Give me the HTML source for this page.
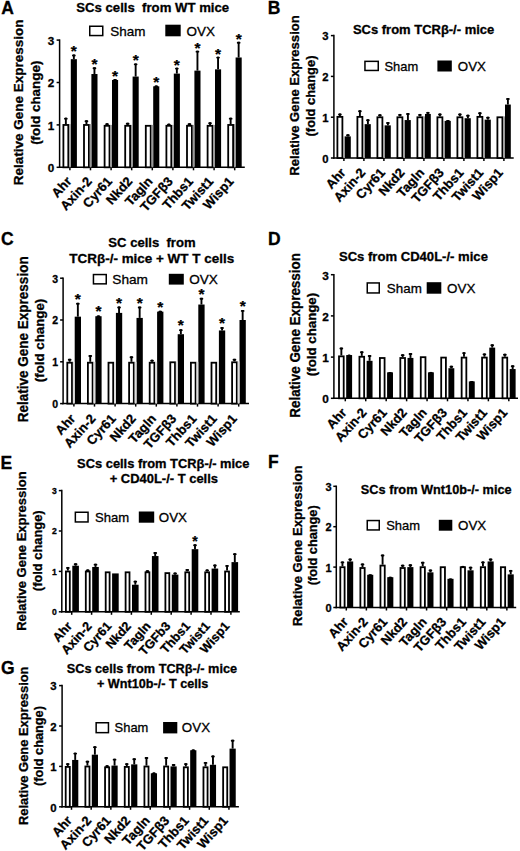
<!DOCTYPE html>
<html><head><meta charset="utf-8"><style>
html,body{margin:0;padding:0;background:#fff;}
svg{display:block;}
text{font-family:"Liberation Sans", sans-serif;fill:#000;white-space:pre;stroke:#000;stroke-width:0.3px;}
</style></head><body>
<svg width="520" height="851" viewBox="0 0 520 851">
<rect width="520" height="851" fill="#fff"/>
<text x="1.16" y="14.00" font-size="17.5" font-weight="bold" >A</text>
<text x="76.22" y="11.50" font-size="13.5" font-weight="bold" textLength="152.93" lengthAdjust="spacingAndGlyphs" >SCs cells  from WT mice</text>
<rect x="89.75" y="26.25" width="13.00" height="9.30" fill="#fff" stroke="#000" stroke-width="1.5"/>
<rect x="165.30" y="24.70" width="15.40" height="11.60" fill="#000"/>
<text x="110.19" y="36.10" font-size="13.3" textLength="35.20" lengthAdjust="spacingAndGlyphs" >Sham</text>
<text x="186.46" y="36.10" font-size="13.3" textLength="28.42" lengthAdjust="spacingAndGlyphs" >OVX</text>
<text x="0.00" y="0.00" font-size="13.3" font-weight="bold" textLength="165.64" lengthAdjust="spacingAndGlyphs" transform="translate(23.20,185.20) rotate(-90)" >Relative Gene Expression</text>
<text x="0.00" y="0.00" font-size="12.8" font-weight="bold" textLength="84.24" lengthAdjust="spacingAndGlyphs" transform="translate(40.00,144.87) rotate(-90)" >(fold change)</text>
<line x1="59.6" y1="168.05" x2="59.6" y2="39.35000000000002" stroke="#000" stroke-width="1.5"/>
<line x1="56.6" y1="167.30" x2="59.6" y2="167.30" stroke="#000" stroke-width="1.5"/>
<text x="54.30" y="172.12" font-size="11.7" font-weight="bold" text-anchor="end" >0</text>
<line x1="56.6" y1="124.90" x2="59.6" y2="124.90" stroke="#000" stroke-width="1.5"/>
<text x="54.30" y="129.72" font-size="11.7" font-weight="bold" text-anchor="end" >1</text>
<line x1="56.6" y1="82.50" x2="59.6" y2="82.50" stroke="#000" stroke-width="1.5"/>
<text x="54.30" y="87.32" font-size="11.7" font-weight="bold" text-anchor="end" >2</text>
<line x1="56.6" y1="40.10" x2="59.6" y2="40.10" stroke="#000" stroke-width="1.5"/>
<text x="54.30" y="44.92" font-size="11.7" font-weight="bold" text-anchor="end" >3</text>
<line x1="58.85" y1="167.3" x2="244.8" y2="167.3" stroke="#000" stroke-width="1.5"/>
<line x1="69.90" y1="167.3" x2="69.90" y2="170.3" stroke="#000" stroke-width="1.5"/>
<line x1="65.85" y1="124.05" x2="65.85" y2="117.69" stroke="#000" stroke-width="1.9"/>
<line x1="64.95" y1="118.64" x2="66.75" y2="118.64" stroke="#000" stroke-width="1.9" stroke-linecap="round"/>
<rect x="63.40" y="124.95" width="4.90" height="42.35" fill="#fff" stroke="#000" stroke-width="1.8"/>
<line x1="73.85" y1="59.18" x2="73.85" y2="54.52" stroke="#000" stroke-width="1.9"/>
<line x1="72.95" y1="55.47" x2="74.75" y2="55.47" stroke="#000" stroke-width="1.9" stroke-linecap="round"/>
<rect x="70.80" y="59.18" width="6.10" height="108.12" fill="#000"/>
<rect x="69.20" y="124.05" width="1.60" height="43.25" fill="#999"/>
<text x="73.85" y="56.41" font-size="15.5" font-weight="bold" text-anchor="middle" style="stroke-width:0.25px" >*</text>
<text x="0.00" y="0.00" font-size="13" font-weight="bold" text-anchor="end" transform="translate(72.30,181.80) rotate(-48)" >Ahr</text>
<line x1="90.50" y1="167.3" x2="90.50" y2="170.3" stroke="#000" stroke-width="1.5"/>
<line x1="86.45" y1="124.05" x2="86.45" y2="120.24" stroke="#000" stroke-width="1.9"/>
<line x1="85.55" y1="121.19" x2="87.35" y2="121.19" stroke="#000" stroke-width="1.9" stroke-linecap="round"/>
<rect x="84.00" y="124.95" width="4.90" height="42.35" fill="#fff" stroke="#000" stroke-width="1.8"/>
<line x1="94.45" y1="74.02" x2="94.45" y2="67.24" stroke="#000" stroke-width="1.9"/>
<line x1="93.55" y1="68.19" x2="95.35" y2="68.19" stroke="#000" stroke-width="1.9" stroke-linecap="round"/>
<rect x="91.40" y="74.02" width="6.10" height="93.28" fill="#000"/>
<rect x="89.80" y="124.05" width="1.60" height="43.25" fill="#999"/>
<text x="94.45" y="69.13" font-size="15.5" font-weight="bold" text-anchor="middle" style="stroke-width:0.25px" >*</text>
<text x="0.00" y="0.00" font-size="13" font-weight="bold" text-anchor="end" transform="translate(92.55,181.80) rotate(-48)" >Axin-2</text>
<line x1="111.10" y1="167.3" x2="111.10" y2="170.3" stroke="#000" stroke-width="1.5"/>
<line x1="107.05" y1="124.90" x2="107.05" y2="123.20" stroke="#000" stroke-width="1.9"/>
<line x1="106.15" y1="124.15" x2="107.95" y2="124.15" stroke="#000" stroke-width="1.9" stroke-linecap="round"/>
<rect x="104.60" y="125.80" width="4.90" height="41.50" fill="#fff" stroke="#000" stroke-width="1.8"/>
<line x1="115.05" y1="79.96" x2="115.05" y2="79.11" stroke="#000" stroke-width="1.9"/>
<line x1="114.15" y1="80.06" x2="115.95" y2="80.06" stroke="#000" stroke-width="1.9" stroke-linecap="round"/>
<rect x="112.00" y="79.96" width="6.10" height="87.34" fill="#000"/>
<rect x="110.40" y="124.90" width="1.60" height="42.40" fill="#999"/>
<text x="115.05" y="81.01" font-size="15.5" font-weight="bold" text-anchor="middle" style="stroke-width:0.25px" >*</text>
<text x="0.00" y="0.00" font-size="13" font-weight="bold" text-anchor="end" transform="translate(112.80,181.80) rotate(-48)" >Cyr61</text>
<line x1="131.70" y1="167.3" x2="131.70" y2="170.3" stroke="#000" stroke-width="1.5"/>
<line x1="127.65" y1="124.90" x2="127.65" y2="122.78" stroke="#000" stroke-width="1.9"/>
<line x1="126.75" y1="123.73" x2="128.55" y2="123.73" stroke="#000" stroke-width="1.9" stroke-linecap="round"/>
<rect x="125.20" y="125.80" width="4.90" height="41.50" fill="#fff" stroke="#000" stroke-width="1.8"/>
<line x1="135.65" y1="76.56" x2="135.65" y2="63.42" stroke="#000" stroke-width="1.9"/>
<line x1="134.75" y1="64.37" x2="136.55" y2="64.37" stroke="#000" stroke-width="1.9" stroke-linecap="round"/>
<rect x="132.60" y="76.56" width="6.10" height="90.74" fill="#000"/>
<rect x="131.00" y="124.90" width="1.60" height="42.40" fill="#999"/>
<text x="135.65" y="65.32" font-size="15.5" font-weight="bold" text-anchor="middle" style="stroke-width:0.25px" >*</text>
<text x="0.00" y="0.00" font-size="13" font-weight="bold" text-anchor="end" transform="translate(133.05,181.80) rotate(-48)" >Nkd2</text>
<line x1="152.30" y1="167.3" x2="152.30" y2="170.3" stroke="#000" stroke-width="1.5"/>
<rect x="145.80" y="125.80" width="4.90" height="41.50" fill="#fff" stroke="#000" stroke-width="1.8"/>
<line x1="156.25" y1="86.32" x2="156.25" y2="85.47" stroke="#000" stroke-width="1.9"/>
<line x1="155.35" y1="86.42" x2="157.15" y2="86.42" stroke="#000" stroke-width="1.9" stroke-linecap="round"/>
<rect x="153.20" y="86.32" width="6.10" height="80.98" fill="#000"/>
<rect x="151.60" y="124.90" width="1.60" height="42.40" fill="#999"/>
<text x="156.25" y="87.37" font-size="15.5" font-weight="bold" text-anchor="middle" style="stroke-width:0.25px" >*</text>
<text x="0.00" y="0.00" font-size="13" font-weight="bold" text-anchor="end" transform="translate(153.30,181.80) rotate(-48)" >Tagln</text>
<line x1="172.90" y1="167.3" x2="172.90" y2="170.3" stroke="#000" stroke-width="1.5"/>
<line x1="168.85" y1="124.90" x2="168.85" y2="123.63" stroke="#000" stroke-width="1.9"/>
<line x1="167.95" y1="124.58" x2="169.75" y2="124.58" stroke="#000" stroke-width="1.9" stroke-linecap="round"/>
<rect x="166.40" y="125.80" width="4.90" height="41.50" fill="#fff" stroke="#000" stroke-width="1.8"/>
<line x1="176.85" y1="73.60" x2="176.85" y2="67.66" stroke="#000" stroke-width="1.9"/>
<line x1="175.95" y1="68.61" x2="177.75" y2="68.61" stroke="#000" stroke-width="1.9" stroke-linecap="round"/>
<rect x="173.80" y="73.60" width="6.10" height="93.70" fill="#000"/>
<rect x="172.20" y="124.90" width="1.60" height="42.40" fill="#999"/>
<text x="176.85" y="69.56" font-size="15.5" font-weight="bold" text-anchor="middle" style="stroke-width:0.25px" >*</text>
<text x="0.00" y="0.00" font-size="13" font-weight="bold" text-anchor="end" transform="translate(173.55,181.80) rotate(-48)" >TGFβ3</text>
<line x1="193.50" y1="167.3" x2="193.50" y2="170.3" stroke="#000" stroke-width="1.5"/>
<line x1="189.45" y1="124.90" x2="189.45" y2="123.20" stroke="#000" stroke-width="1.9"/>
<line x1="188.55" y1="124.15" x2="190.35" y2="124.15" stroke="#000" stroke-width="1.9" stroke-linecap="round"/>
<rect x="187.00" y="125.80" width="4.90" height="41.50" fill="#fff" stroke="#000" stroke-width="1.8"/>
<line x1="197.45" y1="70.63" x2="197.45" y2="50.70" stroke="#000" stroke-width="1.9"/>
<line x1="196.55" y1="51.65" x2="198.35" y2="51.65" stroke="#000" stroke-width="1.9" stroke-linecap="round"/>
<rect x="194.40" y="70.63" width="6.10" height="96.67" fill="#000"/>
<rect x="192.80" y="124.90" width="1.60" height="42.40" fill="#999"/>
<text x="197.45" y="52.60" font-size="15.5" font-weight="bold" text-anchor="middle" style="stroke-width:0.25px" >*</text>
<text x="0.00" y="0.00" font-size="13" font-weight="bold" text-anchor="end" transform="translate(193.80,181.80) rotate(-48)" >Thbs1</text>
<line x1="214.10" y1="167.3" x2="214.10" y2="170.3" stroke="#000" stroke-width="1.5"/>
<line x1="210.05" y1="124.90" x2="210.05" y2="122.36" stroke="#000" stroke-width="1.9"/>
<line x1="209.15" y1="123.31" x2="210.95" y2="123.31" stroke="#000" stroke-width="1.9" stroke-linecap="round"/>
<rect x="207.60" y="125.80" width="4.90" height="41.50" fill="#fff" stroke="#000" stroke-width="1.8"/>
<line x1="218.05" y1="69.36" x2="218.05" y2="56.64" stroke="#000" stroke-width="1.9"/>
<line x1="217.15" y1="57.59" x2="218.95" y2="57.59" stroke="#000" stroke-width="1.9" stroke-linecap="round"/>
<rect x="215.00" y="69.36" width="6.10" height="97.94" fill="#000"/>
<rect x="213.40" y="124.90" width="1.60" height="42.40" fill="#999"/>
<text x="218.05" y="58.53" font-size="15.5" font-weight="bold" text-anchor="middle" style="stroke-width:0.25px" >*</text>
<text x="0.00" y="0.00" font-size="13" font-weight="bold" text-anchor="end" transform="translate(214.05,181.80) rotate(-48)" >Twist1</text>
<line x1="234.70" y1="167.3" x2="234.70" y2="170.3" stroke="#000" stroke-width="1.5"/>
<line x1="230.65" y1="124.05" x2="230.65" y2="117.69" stroke="#000" stroke-width="1.9"/>
<line x1="229.75" y1="118.64" x2="231.55" y2="118.64" stroke="#000" stroke-width="1.9" stroke-linecap="round"/>
<rect x="228.20" y="124.95" width="4.90" height="42.35" fill="#fff" stroke="#000" stroke-width="1.8"/>
<line x1="238.65" y1="57.48" x2="238.65" y2="41.80" stroke="#000" stroke-width="1.9"/>
<line x1="237.75" y1="42.75" x2="239.55" y2="42.75" stroke="#000" stroke-width="1.9" stroke-linecap="round"/>
<rect x="235.60" y="57.48" width="6.10" height="109.82" fill="#000"/>
<rect x="234.00" y="124.05" width="1.60" height="43.25" fill="#999"/>
<text x="238.65" y="43.69" font-size="15.5" font-weight="bold" text-anchor="middle" style="stroke-width:0.25px" >*</text>
<text x="0.00" y="0.00" font-size="13" font-weight="bold" text-anchor="end" transform="translate(234.30,181.80) rotate(-48)" >Wisp1</text>
<text x="267.70" y="13.80" font-size="17.5" font-weight="bold" >B</text>
<text x="352.93" y="34.20" font-size="12.3" font-weight="bold" textLength="141.32" lengthAdjust="spacingAndGlyphs" >SCs from TCRβ-/- mice</text>
<rect x="364.95" y="61.35" width="13.30" height="9.10" fill="#fff" stroke="#000" stroke-width="1.5"/>
<rect x="437.40" y="60.50" width="14.40" height="11.00" fill="#000"/>
<text x="384.41" y="70.60" font-size="13.3" textLength="33.74" lengthAdjust="spacingAndGlyphs" >Sham</text>
<text x="457.87" y="71.00" font-size="13.3" textLength="28.11" lengthAdjust="spacingAndGlyphs" >OVX</text>
<text x="0.00" y="0.00" font-size="12.8" font-weight="bold" textLength="160.38" lengthAdjust="spacingAndGlyphs" transform="translate(298.80,175.67) rotate(-90)" >Relative Gene Expression</text>
<text x="0.00" y="0.00" font-size="12.5" font-weight="bold" textLength="80.88" lengthAdjust="spacingAndGlyphs" transform="translate(314.80,136.44) rotate(-90)" >(fold change)</text>
<line x1="333.9" y1="158.75" x2="333.9" y2="34.85000000000001" stroke="#000" stroke-width="1.5"/>
<line x1="330.9" y1="158.00" x2="333.9" y2="158.00" stroke="#000" stroke-width="1.5"/>
<text x="328.60" y="162.69" font-size="11.3" font-weight="bold" text-anchor="end" >0</text>
<line x1="330.9" y1="117.20" x2="333.9" y2="117.20" stroke="#000" stroke-width="1.5"/>
<text x="328.60" y="121.89" font-size="11.3" font-weight="bold" text-anchor="end" >1</text>
<line x1="330.9" y1="76.40" x2="333.9" y2="76.40" stroke="#000" stroke-width="1.5"/>
<text x="328.60" y="81.09" font-size="11.3" font-weight="bold" text-anchor="end" >2</text>
<line x1="330.9" y1="35.60" x2="333.9" y2="35.60" stroke="#000" stroke-width="1.5"/>
<text x="328.60" y="40.29" font-size="11.3" font-weight="bold" text-anchor="end" >3</text>
<line x1="333.15" y1="158.0" x2="513.7" y2="158.0" stroke="#000" stroke-width="1.5"/>
<line x1="343.90" y1="158.0" x2="343.90" y2="161.0" stroke="#000" stroke-width="1.5"/>
<line x1="339.90" y1="115.98" x2="339.90" y2="113.53" stroke="#000" stroke-width="1.9"/>
<line x1="339.00" y1="114.48" x2="340.80" y2="114.48" stroke="#000" stroke-width="1.9" stroke-linecap="round"/>
<rect x="337.40" y="116.88" width="5.00" height="41.12" fill="#fff" stroke="#000" stroke-width="1.8"/>
<line x1="347.90" y1="136.38" x2="347.90" y2="134.34" stroke="#000" stroke-width="1.9"/>
<line x1="347.00" y1="135.29" x2="348.80" y2="135.29" stroke="#000" stroke-width="1.9" stroke-linecap="round"/>
<rect x="345.00" y="136.38" width="5.80" height="21.62" fill="#000"/>
<rect x="343.30" y="136.38" width="1.70" height="21.62" fill="#999"/>
<text x="0.00" y="0.00" font-size="13" font-weight="bold" text-anchor="end" transform="translate(346.50,173.20) rotate(-48)" >Ahr</text>
<line x1="363.90" y1="158.0" x2="363.90" y2="161.0" stroke="#000" stroke-width="1.5"/>
<line x1="359.90" y1="115.98" x2="359.90" y2="110.26" stroke="#000" stroke-width="1.9"/>
<line x1="359.00" y1="111.21" x2="360.80" y2="111.21" stroke="#000" stroke-width="1.9" stroke-linecap="round"/>
<rect x="357.40" y="116.88" width="5.00" height="41.12" fill="#fff" stroke="#000" stroke-width="1.8"/>
<line x1="367.90" y1="124.14" x2="367.90" y2="119.24" stroke="#000" stroke-width="1.9"/>
<line x1="367.00" y1="120.19" x2="368.80" y2="120.19" stroke="#000" stroke-width="1.9" stroke-linecap="round"/>
<rect x="365.00" y="124.14" width="5.80" height="33.86" fill="#000"/>
<rect x="363.30" y="124.14" width="1.70" height="33.86" fill="#999"/>
<text x="0.00" y="0.00" font-size="13" font-weight="bold" text-anchor="end" transform="translate(366.14,173.20) rotate(-48)" >Axin-2</text>
<line x1="383.90" y1="158.0" x2="383.90" y2="161.0" stroke="#000" stroke-width="1.5"/>
<line x1="379.90" y1="116.38" x2="379.90" y2="114.34" stroke="#000" stroke-width="1.9"/>
<line x1="379.00" y1="115.29" x2="380.80" y2="115.29" stroke="#000" stroke-width="1.9" stroke-linecap="round"/>
<rect x="377.40" y="117.28" width="5.00" height="40.72" fill="#fff" stroke="#000" stroke-width="1.8"/>
<line x1="387.90" y1="125.36" x2="387.90" y2="122.10" stroke="#000" stroke-width="1.9"/>
<line x1="387.00" y1="123.05" x2="388.80" y2="123.05" stroke="#000" stroke-width="1.9" stroke-linecap="round"/>
<rect x="385.00" y="125.36" width="5.80" height="32.64" fill="#000"/>
<rect x="383.30" y="125.36" width="1.70" height="32.64" fill="#999"/>
<text x="0.00" y="0.00" font-size="13" font-weight="bold" text-anchor="end" transform="translate(385.78,173.20) rotate(-48)" >Cyr61</text>
<line x1="403.90" y1="158.0" x2="403.90" y2="161.0" stroke="#000" stroke-width="1.5"/>
<line x1="399.90" y1="116.38" x2="399.90" y2="113.94" stroke="#000" stroke-width="1.9"/>
<line x1="399.00" y1="114.89" x2="400.80" y2="114.89" stroke="#000" stroke-width="1.9" stroke-linecap="round"/>
<rect x="397.40" y="117.28" width="5.00" height="40.72" fill="#fff" stroke="#000" stroke-width="1.8"/>
<line x1="407.90" y1="120.06" x2="407.90" y2="113.12" stroke="#000" stroke-width="1.9"/>
<line x1="407.00" y1="114.07" x2="408.80" y2="114.07" stroke="#000" stroke-width="1.9" stroke-linecap="round"/>
<rect x="405.00" y="120.06" width="5.80" height="37.94" fill="#000"/>
<rect x="403.30" y="120.06" width="1.70" height="37.94" fill="#999"/>
<text x="0.00" y="0.00" font-size="13" font-weight="bold" text-anchor="end" transform="translate(405.42,173.20) rotate(-48)" >Nkd2</text>
<line x1="423.90" y1="158.0" x2="423.90" y2="161.0" stroke="#000" stroke-width="1.5"/>
<line x1="419.90" y1="116.38" x2="419.90" y2="113.94" stroke="#000" stroke-width="1.9"/>
<line x1="419.00" y1="114.89" x2="420.80" y2="114.89" stroke="#000" stroke-width="1.9" stroke-linecap="round"/>
<rect x="417.40" y="117.28" width="5.00" height="40.72" fill="#fff" stroke="#000" stroke-width="1.8"/>
<line x1="427.90" y1="113.94" x2="427.90" y2="111.90" stroke="#000" stroke-width="1.9"/>
<line x1="427.00" y1="112.85" x2="428.80" y2="112.85" stroke="#000" stroke-width="1.9" stroke-linecap="round"/>
<rect x="425.00" y="113.94" width="5.80" height="44.06" fill="#000"/>
<rect x="423.30" y="116.38" width="1.70" height="41.62" fill="#999"/>
<text x="0.00" y="0.00" font-size="13" font-weight="bold" text-anchor="end" transform="translate(425.06,173.20) rotate(-48)" >Tagln</text>
<line x1="443.90" y1="158.0" x2="443.90" y2="161.0" stroke="#000" stroke-width="1.5"/>
<line x1="439.90" y1="116.38" x2="439.90" y2="113.53" stroke="#000" stroke-width="1.9"/>
<line x1="439.00" y1="114.48" x2="440.80" y2="114.48" stroke="#000" stroke-width="1.9" stroke-linecap="round"/>
<rect x="437.40" y="117.28" width="5.00" height="40.72" fill="#fff" stroke="#000" stroke-width="1.8"/>
<line x1="447.90" y1="120.87" x2="447.90" y2="120.06" stroke="#000" stroke-width="1.9"/>
<line x1="447.00" y1="121.01" x2="448.80" y2="121.01" stroke="#000" stroke-width="1.9" stroke-linecap="round"/>
<rect x="445.00" y="120.87" width="5.80" height="37.13" fill="#000"/>
<rect x="443.30" y="120.87" width="1.70" height="37.13" fill="#999"/>
<text x="0.00" y="0.00" font-size="13" font-weight="bold" text-anchor="end" transform="translate(444.70,173.20) rotate(-48)" >TGFβ3</text>
<line x1="463.90" y1="158.0" x2="463.90" y2="161.0" stroke="#000" stroke-width="1.5"/>
<line x1="459.90" y1="116.38" x2="459.90" y2="113.53" stroke="#000" stroke-width="1.9"/>
<line x1="459.00" y1="114.48" x2="460.80" y2="114.48" stroke="#000" stroke-width="1.9" stroke-linecap="round"/>
<rect x="457.40" y="117.28" width="5.00" height="40.72" fill="#fff" stroke="#000" stroke-width="1.8"/>
<line x1="467.90" y1="118.22" x2="467.90" y2="114.75" stroke="#000" stroke-width="1.9"/>
<line x1="467.00" y1="115.70" x2="468.80" y2="115.70" stroke="#000" stroke-width="1.9" stroke-linecap="round"/>
<rect x="465.00" y="118.22" width="5.80" height="39.78" fill="#000"/>
<rect x="463.30" y="118.22" width="1.70" height="39.78" fill="#999"/>
<text x="0.00" y="0.00" font-size="13" font-weight="bold" text-anchor="end" transform="translate(464.34,173.20) rotate(-48)" >Thbs1</text>
<line x1="483.90" y1="158.0" x2="483.90" y2="161.0" stroke="#000" stroke-width="1.5"/>
<line x1="479.90" y1="115.98" x2="479.90" y2="112.30" stroke="#000" stroke-width="1.9"/>
<line x1="479.00" y1="113.25" x2="480.80" y2="113.25" stroke="#000" stroke-width="1.9" stroke-linecap="round"/>
<rect x="477.40" y="116.88" width="5.00" height="41.12" fill="#fff" stroke="#000" stroke-width="1.8"/>
<line x1="487.90" y1="119.65" x2="487.90" y2="116.79" stroke="#000" stroke-width="1.9"/>
<line x1="487.00" y1="117.74" x2="488.80" y2="117.74" stroke="#000" stroke-width="1.9" stroke-linecap="round"/>
<rect x="485.00" y="119.65" width="5.80" height="38.35" fill="#000"/>
<rect x="483.30" y="119.65" width="1.70" height="38.35" fill="#999"/>
<text x="0.00" y="0.00" font-size="13" font-weight="bold" text-anchor="end" transform="translate(483.98,173.20) rotate(-48)" >Twist1</text>
<line x1="503.90" y1="158.0" x2="503.90" y2="161.0" stroke="#000" stroke-width="1.5"/>
<rect x="497.40" y="117.28" width="5.00" height="40.72" fill="#fff" stroke="#000" stroke-width="1.8"/>
<line x1="507.90" y1="104.55" x2="507.90" y2="98.02" stroke="#000" stroke-width="1.9"/>
<line x1="507.00" y1="98.97" x2="508.80" y2="98.97" stroke="#000" stroke-width="1.9" stroke-linecap="round"/>
<rect x="505.00" y="104.55" width="5.80" height="53.45" fill="#000"/>
<rect x="503.30" y="116.38" width="1.70" height="41.62" fill="#999"/>
<text x="0.00" y="0.00" font-size="13" font-weight="bold" text-anchor="end" transform="translate(503.62,173.20) rotate(-48)" >Wisp1</text>
<text x="0.90" y="245.20" font-size="17.5" font-weight="bold" >C</text>
<text x="108.32" y="247.00" font-size="13.4" font-weight="bold" textLength="87.29" lengthAdjust="spacingAndGlyphs" >SC cells  from</text>
<text x="69.35" y="263.40" font-size="13.4" font-weight="bold" textLength="164.80" lengthAdjust="spacingAndGlyphs" >TCRβ-/- mice + WT T cells</text>
<rect x="93.45" y="274.55" width="12.80" height="9.30" fill="#fff" stroke="#000" stroke-width="1.5"/>
<rect x="168.80" y="273.80" width="15.00" height="10.80" fill="#000"/>
<text x="112.28" y="284.10" font-size="13.3" textLength="35.72" lengthAdjust="spacingAndGlyphs" >Sham</text>
<text x="189.16" y="284.10" font-size="13.3" textLength="28.63" lengthAdjust="spacingAndGlyphs" >OVX</text>
<text x="0.00" y="0.00" font-size="13.8" font-weight="bold" textLength="165.84" lengthAdjust="spacingAndGlyphs" transform="translate(27.50,422.20) rotate(-90)" >Relative Gene Expression</text>
<text x="0.00" y="0.00" font-size="13.0" font-weight="bold" textLength="83.42" lengthAdjust="spacingAndGlyphs" transform="translate(43.90,382.16) rotate(-90)" >(fold change)</text>
<line x1="63.1" y1="404.35" x2="63.1" y2="277.45000000000005" stroke="#000" stroke-width="1.5"/>
<line x1="60.1" y1="403.60" x2="63.1" y2="403.60" stroke="#000" stroke-width="1.5"/>
<text x="58.00" y="408.01" font-size="10.5" font-weight="bold" text-anchor="end" >0</text>
<line x1="60.1" y1="361.80" x2="63.1" y2="361.80" stroke="#000" stroke-width="1.5"/>
<text x="58.00" y="366.21" font-size="10.5" font-weight="bold" text-anchor="end" >1</text>
<line x1="60.1" y1="320.00" x2="63.1" y2="320.00" stroke="#000" stroke-width="1.5"/>
<text x="58.00" y="324.41" font-size="10.5" font-weight="bold" text-anchor="end" >2</text>
<line x1="60.1" y1="278.20" x2="63.1" y2="278.20" stroke="#000" stroke-width="1.5"/>
<text x="58.00" y="282.61" font-size="10.5" font-weight="bold" text-anchor="end" >3</text>
<line x1="62.35" y1="403.6" x2="249" y2="403.6" stroke="#000" stroke-width="1.5"/>
<line x1="73.90" y1="403.6" x2="73.90" y2="406.6" stroke="#000" stroke-width="1.5"/>
<line x1="69.65" y1="361.80" x2="69.65" y2="358.87" stroke="#000" stroke-width="1.9"/>
<line x1="68.75" y1="359.82" x2="70.55" y2="359.82" stroke="#000" stroke-width="1.9" stroke-linecap="round"/>
<rect x="67.30" y="362.70" width="4.70" height="40.90" fill="#fff" stroke="#000" stroke-width="1.8"/>
<line x1="77.85" y1="316.66" x2="77.85" y2="302.86" stroke="#000" stroke-width="1.9"/>
<line x1="76.95" y1="303.81" x2="78.75" y2="303.81" stroke="#000" stroke-width="1.9" stroke-linecap="round"/>
<rect x="74.70" y="316.66" width="6.30" height="86.94" fill="#000"/>
<rect x="72.90" y="361.80" width="1.80" height="41.80" fill="#ddd"/>
<text x="77.85" y="303.76" font-size="15.5" font-weight="bold" text-anchor="middle" style="stroke-width:0.25px" >*</text>
<text x="0.00" y="0.00" font-size="13" font-weight="bold" text-anchor="end" transform="translate(76.10,419.20) rotate(-48)" >Ahr</text>
<line x1="94.50" y1="403.6" x2="94.50" y2="406.6" stroke="#000" stroke-width="1.5"/>
<line x1="90.25" y1="361.80" x2="90.25" y2="355.11" stroke="#000" stroke-width="1.9"/>
<line x1="89.35" y1="356.06" x2="91.15" y2="356.06" stroke="#000" stroke-width="1.9" stroke-linecap="round"/>
<rect x="87.90" y="362.70" width="4.70" height="40.90" fill="#fff" stroke="#000" stroke-width="1.8"/>
<line x1="98.45" y1="316.24" x2="98.45" y2="315.40" stroke="#000" stroke-width="1.9"/>
<line x1="97.55" y1="316.35" x2="99.35" y2="316.35" stroke="#000" stroke-width="1.9" stroke-linecap="round"/>
<rect x="95.30" y="316.24" width="6.30" height="87.36" fill="#000"/>
<rect x="93.50" y="361.80" width="1.80" height="41.80" fill="#ddd"/>
<text x="98.45" y="316.30" font-size="15.5" font-weight="bold" text-anchor="middle" style="stroke-width:0.25px" >*</text>
<text x="0.00" y="0.00" font-size="13" font-weight="bold" text-anchor="end" transform="translate(96.30,419.20) rotate(-48)" >Axin-2</text>
<line x1="115.10" y1="403.6" x2="115.10" y2="406.6" stroke="#000" stroke-width="1.5"/>
<rect x="108.50" y="362.70" width="4.70" height="40.90" fill="#fff" stroke="#000" stroke-width="1.8"/>
<line x1="119.05" y1="312.89" x2="119.05" y2="306.62" stroke="#000" stroke-width="1.9"/>
<line x1="118.15" y1="307.57" x2="119.95" y2="307.57" stroke="#000" stroke-width="1.9" stroke-linecap="round"/>
<rect x="115.90" y="312.89" width="6.30" height="90.71" fill="#000"/>
<rect x="114.10" y="361.80" width="1.80" height="41.80" fill="#ddd"/>
<text x="119.05" y="307.52" font-size="15.5" font-weight="bold" text-anchor="middle" style="stroke-width:0.25px" >*</text>
<text x="0.00" y="0.00" font-size="13" font-weight="bold" text-anchor="end" transform="translate(116.50,419.20) rotate(-48)" >Cyr61</text>
<line x1="135.70" y1="403.6" x2="135.70" y2="406.6" stroke="#000" stroke-width="1.5"/>
<line x1="131.45" y1="361.80" x2="131.45" y2="356.37" stroke="#000" stroke-width="1.9"/>
<line x1="130.55" y1="357.32" x2="132.35" y2="357.32" stroke="#000" stroke-width="1.9" stroke-linecap="round"/>
<rect x="129.10" y="362.70" width="4.70" height="40.90" fill="#fff" stroke="#000" stroke-width="1.8"/>
<line x1="139.65" y1="317.91" x2="139.65" y2="306.62" stroke="#000" stroke-width="1.9"/>
<line x1="138.75" y1="307.57" x2="140.55" y2="307.57" stroke="#000" stroke-width="1.9" stroke-linecap="round"/>
<rect x="136.50" y="317.91" width="6.30" height="85.69" fill="#000"/>
<rect x="134.70" y="361.80" width="1.80" height="41.80" fill="#ddd"/>
<text x="139.65" y="307.52" font-size="15.5" font-weight="bold" text-anchor="middle" style="stroke-width:0.25px" >*</text>
<text x="0.00" y="0.00" font-size="13" font-weight="bold" text-anchor="end" transform="translate(136.70,419.20) rotate(-48)" >Nkd2</text>
<line x1="156.30" y1="403.6" x2="156.30" y2="406.6" stroke="#000" stroke-width="1.5"/>
<line x1="152.05" y1="361.80" x2="152.05" y2="359.71" stroke="#000" stroke-width="1.9"/>
<line x1="151.15" y1="360.66" x2="152.95" y2="360.66" stroke="#000" stroke-width="1.9" stroke-linecap="round"/>
<rect x="149.70" y="362.70" width="4.70" height="40.90" fill="#fff" stroke="#000" stroke-width="1.8"/>
<line x1="160.25" y1="311.64" x2="160.25" y2="310.80" stroke="#000" stroke-width="1.9"/>
<line x1="159.35" y1="311.75" x2="161.15" y2="311.75" stroke="#000" stroke-width="1.9" stroke-linecap="round"/>
<rect x="157.10" y="311.64" width="6.30" height="91.96" fill="#000"/>
<rect x="155.30" y="361.80" width="1.80" height="41.80" fill="#ddd"/>
<text x="160.25" y="311.70" font-size="15.5" font-weight="bold" text-anchor="middle" style="stroke-width:0.25px" >*</text>
<text x="0.00" y="0.00" font-size="13" font-weight="bold" text-anchor="end" transform="translate(156.90,419.20) rotate(-48)" >Tagln</text>
<line x1="176.90" y1="403.6" x2="176.90" y2="406.6" stroke="#000" stroke-width="1.5"/>
<rect x="170.30" y="362.28" width="4.70" height="41.32" fill="#fff" stroke="#000" stroke-width="1.8"/>
<line x1="180.85" y1="334.21" x2="180.85" y2="329.20" stroke="#000" stroke-width="1.9"/>
<line x1="179.95" y1="330.15" x2="181.75" y2="330.15" stroke="#000" stroke-width="1.9" stroke-linecap="round"/>
<rect x="177.70" y="334.21" width="6.30" height="69.39" fill="#000"/>
<rect x="175.90" y="361.38" width="1.80" height="42.22" fill="#ddd"/>
<text x="180.85" y="330.09" font-size="15.5" font-weight="bold" text-anchor="middle" style="stroke-width:0.25px" >*</text>
<text x="0.00" y="0.00" font-size="13" font-weight="bold" text-anchor="end" transform="translate(177.10,419.20) rotate(-48)" >TGFβ3</text>
<line x1="197.50" y1="403.6" x2="197.50" y2="406.6" stroke="#000" stroke-width="1.5"/>
<rect x="190.90" y="362.70" width="4.70" height="40.90" fill="#fff" stroke="#000" stroke-width="1.8"/>
<line x1="201.45" y1="304.53" x2="201.45" y2="297.85" stroke="#000" stroke-width="1.9"/>
<line x1="200.55" y1="298.80" x2="202.35" y2="298.80" stroke="#000" stroke-width="1.9" stroke-linecap="round"/>
<rect x="198.30" y="304.53" width="6.30" height="99.07" fill="#000"/>
<rect x="196.50" y="361.80" width="1.80" height="41.80" fill="#ddd"/>
<text x="201.45" y="298.74" font-size="15.5" font-weight="bold" text-anchor="middle" style="stroke-width:0.25px" >*</text>
<text x="0.00" y="0.00" font-size="13" font-weight="bold" text-anchor="end" transform="translate(197.30,419.20) rotate(-48)" >Thbs1</text>
<line x1="218.10" y1="403.6" x2="218.10" y2="406.6" stroke="#000" stroke-width="1.5"/>
<rect x="211.50" y="362.70" width="4.70" height="40.90" fill="#fff" stroke="#000" stroke-width="1.8"/>
<line x1="222.05" y1="330.45" x2="222.05" y2="327.11" stroke="#000" stroke-width="1.9"/>
<line x1="221.15" y1="328.06" x2="222.95" y2="328.06" stroke="#000" stroke-width="1.9" stroke-linecap="round"/>
<rect x="218.90" y="330.45" width="6.30" height="73.15" fill="#000"/>
<rect x="217.10" y="361.80" width="1.80" height="41.80" fill="#ddd"/>
<text x="222.05" y="328.00" font-size="15.5" font-weight="bold" text-anchor="middle" style="stroke-width:0.25px" >*</text>
<text x="0.00" y="0.00" font-size="13" font-weight="bold" text-anchor="end" transform="translate(217.50,419.20) rotate(-48)" >Twist1</text>
<line x1="238.70" y1="403.6" x2="238.70" y2="406.6" stroke="#000" stroke-width="1.5"/>
<line x1="234.45" y1="361.38" x2="234.45" y2="358.87" stroke="#000" stroke-width="1.9"/>
<line x1="233.55" y1="359.82" x2="235.35" y2="359.82" stroke="#000" stroke-width="1.9" stroke-linecap="round"/>
<rect x="232.10" y="362.28" width="4.70" height="41.32" fill="#fff" stroke="#000" stroke-width="1.8"/>
<line x1="242.65" y1="320.00" x2="242.65" y2="309.97" stroke="#000" stroke-width="1.9"/>
<line x1="241.75" y1="310.92" x2="243.55" y2="310.92" stroke="#000" stroke-width="1.9" stroke-linecap="round"/>
<rect x="239.50" y="320.00" width="6.30" height="83.60" fill="#000"/>
<rect x="237.70" y="361.38" width="1.80" height="42.22" fill="#ddd"/>
<text x="242.65" y="310.87" font-size="15.5" font-weight="bold" text-anchor="middle" style="stroke-width:0.25px" >*</text>
<text x="0.00" y="0.00" font-size="13" font-weight="bold" text-anchor="end" transform="translate(237.70,419.20) rotate(-48)" >Wisp1</text>
<text x="267.90" y="245.10" font-size="17.5" font-weight="bold" >D</text>
<text x="338.92" y="261.40" font-size="12.8" font-weight="bold" textLength="149.02" lengthAdjust="spacingAndGlyphs" >SCs from CD40L-/- mice</text>
<rect x="367.25" y="282.95" width="12.00" height="10.00" fill="#fff" stroke="#000" stroke-width="1.5"/>
<rect x="426.70" y="282.20" width="14.60" height="11.50" fill="#000"/>
<text x="386.89" y="292.90" font-size="13.3" textLength="34.99" lengthAdjust="spacingAndGlyphs" >Sham</text>
<text x="447.06" y="292.90" font-size="13.3" textLength="28.32" lengthAdjust="spacingAndGlyphs" >OVX</text>
<text x="0.00" y="0.00" font-size="13.8" font-weight="bold" textLength="164.53" lengthAdjust="spacingAndGlyphs" transform="translate(299.60,417.70) rotate(-90)" >Relative Gene Expression</text>
<text x="0.00" y="0.00" font-size="12.5" font-weight="bold" textLength="83.32" lengthAdjust="spacingAndGlyphs" transform="translate(315.80,376.16) rotate(-90)" >(fold change)</text>
<line x1="333.9" y1="399.05" x2="333.9" y2="273.95" stroke="#000" stroke-width="1.5"/>
<line x1="330.9" y1="398.30" x2="333.9" y2="398.30" stroke="#000" stroke-width="1.5"/>
<text x="328.80" y="403.16" font-size="11.8" font-weight="bold" text-anchor="end" >0</text>
<line x1="330.9" y1="357.10" x2="333.9" y2="357.10" stroke="#000" stroke-width="1.5"/>
<text x="328.80" y="361.96" font-size="11.8" font-weight="bold" text-anchor="end" >1</text>
<line x1="330.9" y1="315.90" x2="333.9" y2="315.90" stroke="#000" stroke-width="1.5"/>
<text x="328.80" y="320.76" font-size="11.8" font-weight="bold" text-anchor="end" >2</text>
<line x1="330.9" y1="274.70" x2="333.9" y2="274.70" stroke="#000" stroke-width="1.5"/>
<text x="328.80" y="279.56" font-size="11.8" font-weight="bold" text-anchor="end" >3</text>
<line x1="333.15" y1="398.3" x2="518" y2="398.3" stroke="#000" stroke-width="1.5"/>
<line x1="345.30" y1="398.3" x2="345.30" y2="401.3" stroke="#000" stroke-width="1.5"/>
<line x1="341.35" y1="355.45" x2="341.35" y2="347.62" stroke="#000" stroke-width="1.9"/>
<line x1="340.45" y1="348.57" x2="342.25" y2="348.57" stroke="#000" stroke-width="1.9" stroke-linecap="round"/>
<rect x="339.00" y="356.35" width="4.70" height="41.95" fill="#fff" stroke="#000" stroke-width="1.8"/>
<line x1="349.15" y1="355.04" x2="349.15" y2="354.63" stroke="#000" stroke-width="1.9"/>
<line x1="348.25" y1="355.58" x2="350.05" y2="355.58" stroke="#000" stroke-width="1.9" stroke-linecap="round"/>
<rect x="346.20" y="355.04" width="5.90" height="43.26" fill="#000"/>
<text x="0.00" y="0.00" font-size="13" font-weight="bold" text-anchor="end" transform="translate(347.30,413.20) rotate(-48)" >Ahr</text>
<line x1="365.74" y1="398.3" x2="365.74" y2="401.3" stroke="#000" stroke-width="1.5"/>
<line x1="361.79" y1="355.86" x2="361.79" y2="351.33" stroke="#000" stroke-width="1.9"/>
<line x1="360.89" y1="352.28" x2="362.69" y2="352.28" stroke="#000" stroke-width="1.9" stroke-linecap="round"/>
<rect x="359.44" y="356.76" width="4.70" height="41.54" fill="#fff" stroke="#000" stroke-width="1.8"/>
<line x1="369.59" y1="360.81" x2="369.59" y2="355.04" stroke="#000" stroke-width="1.9"/>
<line x1="368.69" y1="355.99" x2="370.49" y2="355.99" stroke="#000" stroke-width="1.9" stroke-linecap="round"/>
<rect x="366.64" y="360.81" width="5.90" height="37.49" fill="#000"/>
<text x="0.00" y="0.00" font-size="13" font-weight="bold" text-anchor="end" transform="translate(367.39,413.20) rotate(-48)" >Axin-2</text>
<line x1="386.18" y1="398.3" x2="386.18" y2="401.3" stroke="#000" stroke-width="1.5"/>
<rect x="379.88" y="358.00" width="4.70" height="40.30" fill="#fff" stroke="#000" stroke-width="1.8"/>
<line x1="390.03" y1="372.34" x2="390.03" y2="371.93" stroke="#000" stroke-width="1.9"/>
<line x1="389.13" y1="372.88" x2="390.93" y2="372.88" stroke="#000" stroke-width="1.9" stroke-linecap="round"/>
<rect x="387.08" y="372.34" width="5.90" height="25.96" fill="#000"/>
<text x="0.00" y="0.00" font-size="13" font-weight="bold" text-anchor="end" transform="translate(387.48,413.20) rotate(-48)" >Cyr61</text>
<line x1="406.62" y1="398.3" x2="406.62" y2="401.3" stroke="#000" stroke-width="1.5"/>
<line x1="402.67" y1="357.10" x2="402.67" y2="354.22" stroke="#000" stroke-width="1.9"/>
<line x1="401.77" y1="355.17" x2="403.57" y2="355.17" stroke="#000" stroke-width="1.9" stroke-linecap="round"/>
<rect x="400.32" y="358.00" width="4.70" height="40.30" fill="#fff" stroke="#000" stroke-width="1.8"/>
<line x1="410.47" y1="357.92" x2="410.47" y2="352.98" stroke="#000" stroke-width="1.9"/>
<line x1="409.57" y1="353.93" x2="411.37" y2="353.93" stroke="#000" stroke-width="1.9" stroke-linecap="round"/>
<rect x="407.52" y="357.92" width="5.90" height="40.38" fill="#000"/>
<text x="0.00" y="0.00" font-size="13" font-weight="bold" text-anchor="end" transform="translate(407.57,413.20) rotate(-48)" >Nkd2</text>
<line x1="427.06" y1="398.3" x2="427.06" y2="401.3" stroke="#000" stroke-width="1.5"/>
<rect x="420.76" y="357.18" width="4.70" height="41.12" fill="#fff" stroke="#000" stroke-width="1.8"/>
<line x1="430.91" y1="372.34" x2="430.91" y2="371.93" stroke="#000" stroke-width="1.9"/>
<line x1="430.01" y1="372.88" x2="431.81" y2="372.88" stroke="#000" stroke-width="1.9" stroke-linecap="round"/>
<rect x="427.96" y="372.34" width="5.90" height="25.96" fill="#000"/>
<text x="0.00" y="0.00" font-size="13" font-weight="bold" text-anchor="end" transform="translate(427.66,413.20) rotate(-48)" >Tagln</text>
<line x1="447.50" y1="398.3" x2="447.50" y2="401.3" stroke="#000" stroke-width="1.5"/>
<rect x="441.20" y="357.59" width="4.70" height="40.71" fill="#fff" stroke="#000" stroke-width="1.8"/>
<line x1="451.35" y1="368.22" x2="451.35" y2="365.75" stroke="#000" stroke-width="1.9"/>
<line x1="450.45" y1="366.70" x2="452.25" y2="366.70" stroke="#000" stroke-width="1.9" stroke-linecap="round"/>
<rect x="448.40" y="368.22" width="5.90" height="30.08" fill="#000"/>
<text x="0.00" y="0.00" font-size="13" font-weight="bold" text-anchor="end" transform="translate(447.75,413.20) rotate(-48)" >TGFβ3</text>
<line x1="467.94" y1="398.3" x2="467.94" y2="401.3" stroke="#000" stroke-width="1.5"/>
<line x1="463.99" y1="356.69" x2="463.99" y2="352.16" stroke="#000" stroke-width="1.9"/>
<line x1="463.09" y1="353.11" x2="464.89" y2="353.11" stroke="#000" stroke-width="1.9" stroke-linecap="round"/>
<rect x="461.64" y="357.59" width="4.70" height="40.71" fill="#fff" stroke="#000" stroke-width="1.8"/>
<line x1="471.79" y1="381.41" x2="471.79" y2="381.00" stroke="#000" stroke-width="1.9"/>
<line x1="470.89" y1="381.95" x2="472.69" y2="381.95" stroke="#000" stroke-width="1.9" stroke-linecap="round"/>
<rect x="468.84" y="381.41" width="5.90" height="16.89" fill="#000"/>
<text x="0.00" y="0.00" font-size="13" font-weight="bold" text-anchor="end" transform="translate(467.84,413.20) rotate(-48)" >Thbs1</text>
<line x1="488.38" y1="398.3" x2="488.38" y2="401.3" stroke="#000" stroke-width="1.5"/>
<line x1="484.43" y1="356.69" x2="484.43" y2="353.39" stroke="#000" stroke-width="1.9"/>
<line x1="483.53" y1="354.34" x2="485.33" y2="354.34" stroke="#000" stroke-width="1.9" stroke-linecap="round"/>
<rect x="482.08" y="357.59" width="4.70" height="40.71" fill="#fff" stroke="#000" stroke-width="1.8"/>
<line x1="492.23" y1="347.62" x2="492.23" y2="344.33" stroke="#000" stroke-width="1.9"/>
<line x1="491.33" y1="345.28" x2="493.13" y2="345.28" stroke="#000" stroke-width="1.9" stroke-linecap="round"/>
<rect x="489.28" y="347.62" width="5.90" height="50.68" fill="#000"/>
<text x="0.00" y="0.00" font-size="13" font-weight="bold" text-anchor="end" transform="translate(487.93,413.20) rotate(-48)" >Twist1</text>
<line x1="508.82" y1="398.3" x2="508.82" y2="401.3" stroke="#000" stroke-width="1.5"/>
<line x1="504.87" y1="356.69" x2="504.87" y2="353.80" stroke="#000" stroke-width="1.9"/>
<line x1="503.97" y1="354.75" x2="505.77" y2="354.75" stroke="#000" stroke-width="1.9" stroke-linecap="round"/>
<rect x="502.52" y="357.59" width="4.70" height="40.71" fill="#fff" stroke="#000" stroke-width="1.8"/>
<line x1="512.67" y1="369.05" x2="512.67" y2="365.34" stroke="#000" stroke-width="1.9"/>
<line x1="511.77" y1="366.29" x2="513.57" y2="366.29" stroke="#000" stroke-width="1.9" stroke-linecap="round"/>
<rect x="509.72" y="369.05" width="5.90" height="29.25" fill="#000"/>
<text x="0.00" y="0.00" font-size="13" font-weight="bold" text-anchor="end" transform="translate(508.02,413.20) rotate(-48)" >Wisp1</text>
<text x="0.40" y="468.60" font-size="17.5" font-weight="bold" >E</text>
<text x="77.13" y="467.50" font-size="12.3" font-weight="bold" textLength="172.31" lengthAdjust="spacingAndGlyphs" >SCs cells from TCRβ-/- mice</text>
<text x="109.66" y="482.70" font-size="12.3" font-weight="bold" textLength="108.38" lengthAdjust="spacingAndGlyphs" >+ CD40L-/- T cells</text>
<rect x="75.35" y="512.25" width="12.70" height="9.70" fill="#fff" stroke="#000" stroke-width="1.5"/>
<rect x="138.80" y="511.50" width="15.40" height="11.20" fill="#000"/>
<text x="95.01" y="521.90" font-size="13.3" textLength="34.16" lengthAdjust="spacingAndGlyphs" >Sham</text>
<text x="158.77" y="521.90" font-size="13.3" textLength="28.21" lengthAdjust="spacingAndGlyphs" >OVX</text>
<text x="0.00" y="0.00" font-size="13.3" font-weight="bold" textLength="159.57" lengthAdjust="spacingAndGlyphs" transform="translate(26.20,630.87) rotate(-90)" >Relative Gene Expression</text>
<text x="0.00" y="0.00" font-size="12.5" font-weight="bold" textLength="80.78" lengthAdjust="spacingAndGlyphs" transform="translate(42.00,591.14) rotate(-90)" >(fold change)</text>
<line x1="61.8" y1="612.55" x2="61.8" y2="489.84999999999997" stroke="#000" stroke-width="1.5"/>
<line x1="58.8" y1="611.80" x2="61.8" y2="611.80" stroke="#000" stroke-width="1.5"/>
<text x="56.70" y="614.96" font-size="8.6" font-weight="bold" text-anchor="end" >0</text>
<line x1="58.8" y1="571.40" x2="61.8" y2="571.40" stroke="#000" stroke-width="1.5"/>
<text x="56.70" y="574.56" font-size="8.6" font-weight="bold" text-anchor="end" >1</text>
<line x1="58.8" y1="531.00" x2="61.8" y2="531.00" stroke="#000" stroke-width="1.5"/>
<text x="56.70" y="534.16" font-size="8.6" font-weight="bold" text-anchor="end" >2</text>
<line x1="58.8" y1="490.60" x2="61.8" y2="490.60" stroke="#000" stroke-width="1.5"/>
<text x="56.70" y="493.76" font-size="8.6" font-weight="bold" text-anchor="end" >3</text>
<line x1="61.05" y1="611.8" x2="239.8" y2="611.8" stroke="#000" stroke-width="1.5"/>
<line x1="71.70" y1="611.8" x2="71.70" y2="614.8" stroke="#000" stroke-width="1.5"/>
<line x1="67.85" y1="570.59" x2="67.85" y2="566.96" stroke="#000" stroke-width="1.9"/>
<line x1="66.95" y1="567.91" x2="68.75" y2="567.91" stroke="#000" stroke-width="1.9" stroke-linecap="round"/>
<rect x="65.90" y="571.49" width="3.90" height="40.31" fill="#fff" stroke="#000" stroke-width="1.8"/>
<line x1="75.60" y1="565.74" x2="75.60" y2="563.32" stroke="#000" stroke-width="1.9"/>
<line x1="74.70" y1="564.27" x2="76.50" y2="564.27" stroke="#000" stroke-width="1.9" stroke-linecap="round"/>
<rect x="72.30" y="565.74" width="6.60" height="46.06" fill="#000"/>
<text x="0.00" y="0.00" font-size="12.6" font-weight="bold" text-anchor="end" transform="translate(72.70,626.65) rotate(-48)" >Ahr</text>
<line x1="91.60" y1="611.8" x2="91.60" y2="614.8" stroke="#000" stroke-width="1.5"/>
<line x1="87.75" y1="570.59" x2="87.75" y2="569.38" stroke="#000" stroke-width="1.9"/>
<line x1="86.85" y1="570.33" x2="88.65" y2="570.33" stroke="#000" stroke-width="1.9" stroke-linecap="round"/>
<rect x="85.80" y="571.49" width="3.90" height="40.31" fill="#fff" stroke="#000" stroke-width="1.8"/>
<line x1="95.50" y1="566.96" x2="95.50" y2="563.72" stroke="#000" stroke-width="1.9"/>
<line x1="94.60" y1="564.67" x2="96.40" y2="564.67" stroke="#000" stroke-width="1.9" stroke-linecap="round"/>
<rect x="92.20" y="566.96" width="6.60" height="44.84" fill="#000"/>
<text x="0.00" y="0.00" font-size="12.6" font-weight="bold" text-anchor="end" transform="translate(92.40,626.65) rotate(-48)" >Axin-2</text>
<line x1="111.50" y1="611.8" x2="111.50" y2="614.8" stroke="#000" stroke-width="1.5"/>
<rect x="105.70" y="572.30" width="3.90" height="39.50" fill="#fff" stroke="#000" stroke-width="1.8"/>
<rect x="112.10" y="573.42" width="6.60" height="38.38" fill="#000"/>
<text x="0.00" y="0.00" font-size="12.6" font-weight="bold" text-anchor="end" transform="translate(112.10,626.65) rotate(-48)" >Cyr61</text>
<line x1="131.40" y1="611.8" x2="131.40" y2="614.8" stroke="#000" stroke-width="1.5"/>
<rect x="125.60" y="572.30" width="3.90" height="39.50" fill="#fff" stroke="#000" stroke-width="1.8"/>
<line x1="135.30" y1="584.73" x2="135.30" y2="580.69" stroke="#000" stroke-width="1.9"/>
<line x1="134.40" y1="581.64" x2="136.20" y2="581.64" stroke="#000" stroke-width="1.9" stroke-linecap="round"/>
<rect x="132.00" y="584.73" width="6.60" height="27.07" fill="#000"/>
<text x="0.00" y="0.00" font-size="12.6" font-weight="bold" text-anchor="end" transform="translate(131.80,626.65) rotate(-48)" >Nkd2</text>
<line x1="151.30" y1="611.8" x2="151.30" y2="614.8" stroke="#000" stroke-width="1.5"/>
<line x1="147.45" y1="571.40" x2="147.45" y2="570.19" stroke="#000" stroke-width="1.9"/>
<line x1="146.55" y1="571.14" x2="148.35" y2="571.14" stroke="#000" stroke-width="1.9" stroke-linecap="round"/>
<rect x="145.50" y="572.30" width="3.90" height="39.50" fill="#fff" stroke="#000" stroke-width="1.8"/>
<line x1="155.20" y1="556.05" x2="155.20" y2="552.01" stroke="#000" stroke-width="1.9"/>
<line x1="154.30" y1="552.96" x2="156.10" y2="552.96" stroke="#000" stroke-width="1.9" stroke-linecap="round"/>
<rect x="151.90" y="556.05" width="6.60" height="55.75" fill="#000"/>
<text x="0.00" y="0.00" font-size="12.6" font-weight="bold" text-anchor="end" transform="translate(151.50,626.65) rotate(-48)" >Tagln</text>
<line x1="171.20" y1="611.8" x2="171.20" y2="614.8" stroke="#000" stroke-width="1.5"/>
<rect x="165.40" y="573.11" width="3.90" height="38.69" fill="#fff" stroke="#000" stroke-width="1.8"/>
<line x1="175.10" y1="574.63" x2="175.10" y2="572.61" stroke="#000" stroke-width="1.9"/>
<line x1="174.20" y1="573.56" x2="176.00" y2="573.56" stroke="#000" stroke-width="1.9" stroke-linecap="round"/>
<rect x="171.80" y="574.63" width="6.60" height="37.17" fill="#000"/>
<text x="0.00" y="0.00" font-size="12.6" font-weight="bold" text-anchor="end" transform="translate(171.20,626.65) rotate(-48)" >TGFb3</text>
<line x1="191.10" y1="611.8" x2="191.10" y2="614.8" stroke="#000" stroke-width="1.5"/>
<line x1="187.25" y1="571.40" x2="187.25" y2="568.98" stroke="#000" stroke-width="1.9"/>
<line x1="186.35" y1="569.93" x2="188.15" y2="569.93" stroke="#000" stroke-width="1.9" stroke-linecap="round"/>
<rect x="185.30" y="572.30" width="3.90" height="39.50" fill="#fff" stroke="#000" stroke-width="1.8"/>
<line x1="195.00" y1="549.18" x2="195.00" y2="544.33" stroke="#000" stroke-width="1.9"/>
<line x1="194.10" y1="545.28" x2="195.90" y2="545.28" stroke="#000" stroke-width="1.9" stroke-linecap="round"/>
<rect x="191.70" y="549.18" width="6.60" height="62.62" fill="#000"/>
<text x="195.00" y="546.36" font-size="14" font-weight="bold" text-anchor="middle" style="stroke-width:0.25px" >*</text>
<text x="0.00" y="0.00" font-size="12.6" font-weight="bold" text-anchor="end" transform="translate(190.90,626.65) rotate(-48)" >Thbs1</text>
<line x1="211.00" y1="611.8" x2="211.00" y2="614.8" stroke="#000" stroke-width="1.5"/>
<line x1="207.15" y1="571.40" x2="207.15" y2="569.38" stroke="#000" stroke-width="1.9"/>
<line x1="206.25" y1="570.33" x2="208.05" y2="570.33" stroke="#000" stroke-width="1.9" stroke-linecap="round"/>
<rect x="205.20" y="572.30" width="3.90" height="39.50" fill="#fff" stroke="#000" stroke-width="1.8"/>
<line x1="214.90" y1="568.57" x2="214.90" y2="564.53" stroke="#000" stroke-width="1.9"/>
<line x1="214.00" y1="565.48" x2="215.80" y2="565.48" stroke="#000" stroke-width="1.9" stroke-linecap="round"/>
<rect x="211.60" y="568.57" width="6.60" height="43.23" fill="#000"/>
<text x="0.00" y="0.00" font-size="12.6" font-weight="bold" text-anchor="end" transform="translate(210.60,626.65) rotate(-48)" >Twist1</text>
<line x1="230.90" y1="611.8" x2="230.90" y2="614.8" stroke="#000" stroke-width="1.5"/>
<line x1="227.05" y1="570.59" x2="227.05" y2="564.94" stroke="#000" stroke-width="1.9"/>
<line x1="226.15" y1="565.89" x2="227.95" y2="565.89" stroke="#000" stroke-width="1.9" stroke-linecap="round"/>
<rect x="225.10" y="571.49" width="3.90" height="40.31" fill="#fff" stroke="#000" stroke-width="1.8"/>
<line x1="234.80" y1="562.11" x2="234.80" y2="553.22" stroke="#000" stroke-width="1.9"/>
<line x1="233.90" y1="554.17" x2="235.70" y2="554.17" stroke="#000" stroke-width="1.9" stroke-linecap="round"/>
<rect x="231.50" y="562.11" width="6.60" height="49.69" fill="#000"/>
<text x="0.00" y="0.00" font-size="12.6" font-weight="bold" text-anchor="end" transform="translate(230.30,626.65) rotate(-48)" >Wisp1</text>
<text x="267.90" y="468.40" font-size="17.5" font-weight="bold" >F</text>
<text x="360.83" y="494.00" font-size="12.6" font-weight="bold" textLength="150.80" lengthAdjust="spacingAndGlyphs" >SCs from Wnt10b-/- mice</text>
<rect x="367.25" y="520.55" width="12.00" height="9.40" fill="#fff" stroke="#000" stroke-width="1.5"/>
<rect x="438.80" y="519.80" width="13.50" height="10.90" fill="#000"/>
<text x="386.21" y="529.90" font-size="13.3" textLength="33.84" lengthAdjust="spacingAndGlyphs" >Sham</text>
<text x="458.07" y="529.90" font-size="13.3" textLength="28.21" lengthAdjust="spacingAndGlyphs" >OVX</text>
<text x="0.00" y="0.00" font-size="13.3" font-weight="bold" textLength="160.79" lengthAdjust="spacingAndGlyphs" transform="translate(301.50,626.28) rotate(-90)" >Relative Gene Expression</text>
<text x="0.00" y="0.00" font-size="12.5" font-weight="bold" textLength="79.97" lengthAdjust="spacingAndGlyphs" transform="translate(317.20,585.33) rotate(-90)" >(fold change)</text>
<line x1="336.3" y1="608.25" x2="336.3" y2="485.55" stroke="#000" stroke-width="1.5"/>
<line x1="333.3" y1="607.50" x2="336.3" y2="607.50" stroke="#000" stroke-width="1.5"/>
<text x="331.50" y="612.08" font-size="11" font-weight="bold" text-anchor="end" >0</text>
<line x1="333.3" y1="567.10" x2="336.3" y2="567.10" stroke="#000" stroke-width="1.5"/>
<text x="331.50" y="571.68" font-size="11" font-weight="bold" text-anchor="end" >1</text>
<line x1="333.3" y1="526.70" x2="336.3" y2="526.70" stroke="#000" stroke-width="1.5"/>
<text x="331.50" y="531.28" font-size="11" font-weight="bold" text-anchor="end" >2</text>
<line x1="333.3" y1="486.30" x2="336.3" y2="486.30" stroke="#000" stroke-width="1.5"/>
<text x="331.50" y="490.88" font-size="11" font-weight="bold" text-anchor="end" >3</text>
<line x1="335.55" y1="607.5" x2="516.2" y2="607.5" stroke="#000" stroke-width="1.5"/>
<line x1="346.30" y1="607.5" x2="346.30" y2="610.5" stroke="#000" stroke-width="1.5"/>
<line x1="342.45" y1="566.29" x2="342.45" y2="561.44" stroke="#000" stroke-width="1.9"/>
<line x1="341.55" y1="562.39" x2="343.35" y2="562.39" stroke="#000" stroke-width="1.9" stroke-linecap="round"/>
<rect x="340.30" y="567.19" width="4.30" height="40.31" fill="#fff" stroke="#000" stroke-width="1.8"/>
<line x1="350.15" y1="561.44" x2="350.15" y2="558.62" stroke="#000" stroke-width="1.9"/>
<line x1="349.25" y1="559.57" x2="351.05" y2="559.57" stroke="#000" stroke-width="1.9" stroke-linecap="round"/>
<rect x="347.10" y="561.44" width="6.10" height="46.06" fill="#000"/>
<text x="0.00" y="0.00" font-size="13" font-weight="bold" text-anchor="end" transform="translate(348.90,622.35) rotate(-48)" >Ahr</text>
<line x1="366.37" y1="607.5" x2="366.37" y2="610.5" stroke="#000" stroke-width="1.5"/>
<line x1="362.52" y1="567.10" x2="362.52" y2="563.46" stroke="#000" stroke-width="1.9"/>
<line x1="361.62" y1="564.41" x2="363.42" y2="564.41" stroke="#000" stroke-width="1.9" stroke-linecap="round"/>
<rect x="360.37" y="568.00" width="4.30" height="39.50" fill="#fff" stroke="#000" stroke-width="1.8"/>
<line x1="370.22" y1="574.78" x2="370.22" y2="574.37" stroke="#000" stroke-width="1.9"/>
<line x1="369.32" y1="575.32" x2="371.12" y2="575.32" stroke="#000" stroke-width="1.9" stroke-linecap="round"/>
<rect x="367.17" y="574.78" width="6.10" height="32.72" fill="#000"/>
<text x="0.00" y="0.00" font-size="13" font-weight="bold" text-anchor="end" transform="translate(368.54,622.35) rotate(-48)" >Axin-2</text>
<line x1="386.44" y1="607.5" x2="386.44" y2="610.5" stroke="#000" stroke-width="1.5"/>
<line x1="382.59" y1="564.68" x2="382.59" y2="554.58" stroke="#000" stroke-width="1.9"/>
<line x1="381.69" y1="555.53" x2="383.49" y2="555.53" stroke="#000" stroke-width="1.9" stroke-linecap="round"/>
<rect x="380.44" y="565.58" width="4.30" height="41.92" fill="#fff" stroke="#000" stroke-width="1.8"/>
<line x1="390.29" y1="577.20" x2="390.29" y2="576.80" stroke="#000" stroke-width="1.9"/>
<line x1="389.39" y1="577.75" x2="391.19" y2="577.75" stroke="#000" stroke-width="1.9" stroke-linecap="round"/>
<rect x="387.24" y="577.20" width="6.10" height="30.30" fill="#000"/>
<text x="0.00" y="0.00" font-size="13" font-weight="bold" text-anchor="end" transform="translate(388.18,622.35) rotate(-48)" >Cyr61</text>
<line x1="406.51" y1="607.5" x2="406.51" y2="610.5" stroke="#000" stroke-width="1.5"/>
<line x1="402.66" y1="567.10" x2="402.66" y2="564.68" stroke="#000" stroke-width="1.9"/>
<line x1="401.76" y1="565.63" x2="403.56" y2="565.63" stroke="#000" stroke-width="1.9" stroke-linecap="round"/>
<rect x="400.51" y="568.00" width="4.30" height="39.50" fill="#fff" stroke="#000" stroke-width="1.8"/>
<line x1="410.36" y1="567.10" x2="410.36" y2="564.27" stroke="#000" stroke-width="1.9"/>
<line x1="409.46" y1="565.22" x2="411.26" y2="565.22" stroke="#000" stroke-width="1.9" stroke-linecap="round"/>
<rect x="407.31" y="567.10" width="6.10" height="40.40" fill="#000"/>
<text x="0.00" y="0.00" font-size="13" font-weight="bold" text-anchor="end" transform="translate(407.82,622.35) rotate(-48)" >Nkd2</text>
<line x1="426.58" y1="607.5" x2="426.58" y2="610.5" stroke="#000" stroke-width="1.5"/>
<line x1="422.73" y1="566.29" x2="422.73" y2="561.85" stroke="#000" stroke-width="1.9"/>
<line x1="421.83" y1="562.80" x2="423.63" y2="562.80" stroke="#000" stroke-width="1.9" stroke-linecap="round"/>
<rect x="420.58" y="567.19" width="4.30" height="40.31" fill="#fff" stroke="#000" stroke-width="1.8"/>
<line x1="430.43" y1="572.35" x2="430.43" y2="569.52" stroke="#000" stroke-width="1.9"/>
<line x1="429.53" y1="570.47" x2="431.33" y2="570.47" stroke="#000" stroke-width="1.9" stroke-linecap="round"/>
<rect x="427.38" y="572.35" width="6.10" height="35.15" fill="#000"/>
<text x="0.00" y="0.00" font-size="13" font-weight="bold" text-anchor="end" transform="translate(427.46,622.35) rotate(-48)" >Tagln</text>
<line x1="446.65" y1="607.5" x2="446.65" y2="610.5" stroke="#000" stroke-width="1.5"/>
<rect x="440.65" y="567.19" width="4.30" height="40.31" fill="#fff" stroke="#000" stroke-width="1.8"/>
<line x1="450.50" y1="578.82" x2="450.50" y2="578.41" stroke="#000" stroke-width="1.9"/>
<line x1="449.60" y1="579.36" x2="451.40" y2="579.36" stroke="#000" stroke-width="1.9" stroke-linecap="round"/>
<rect x="447.45" y="578.82" width="6.10" height="28.68" fill="#000"/>
<text x="0.00" y="0.00" font-size="13" font-weight="bold" text-anchor="end" transform="translate(447.10,622.35) rotate(-48)" >TGFβ3</text>
<line x1="466.72" y1="607.5" x2="466.72" y2="610.5" stroke="#000" stroke-width="1.5"/>
<line x1="462.87" y1="566.29" x2="462.87" y2="565.89" stroke="#000" stroke-width="1.9"/>
<line x1="461.97" y1="566.84" x2="463.77" y2="566.84" stroke="#000" stroke-width="1.9" stroke-linecap="round"/>
<rect x="460.72" y="567.19" width="4.30" height="40.31" fill="#fff" stroke="#000" stroke-width="1.8"/>
<line x1="470.57" y1="570.33" x2="470.57" y2="566.70" stroke="#000" stroke-width="1.9"/>
<line x1="469.67" y1="567.65" x2="471.47" y2="567.65" stroke="#000" stroke-width="1.9" stroke-linecap="round"/>
<rect x="467.52" y="570.33" width="6.10" height="37.17" fill="#000"/>
<text x="0.00" y="0.00" font-size="13" font-weight="bold" text-anchor="end" transform="translate(466.74,622.35) rotate(-48)" >Thbs1</text>
<line x1="486.79" y1="607.5" x2="486.79" y2="610.5" stroke="#000" stroke-width="1.5"/>
<line x1="482.94" y1="566.29" x2="482.94" y2="561.44" stroke="#000" stroke-width="1.9"/>
<line x1="482.04" y1="562.39" x2="483.84" y2="562.39" stroke="#000" stroke-width="1.9" stroke-linecap="round"/>
<rect x="480.79" y="567.19" width="4.30" height="40.31" fill="#fff" stroke="#000" stroke-width="1.8"/>
<line x1="490.64" y1="561.44" x2="490.64" y2="558.62" stroke="#000" stroke-width="1.9"/>
<line x1="489.74" y1="559.57" x2="491.54" y2="559.57" stroke="#000" stroke-width="1.9" stroke-linecap="round"/>
<rect x="487.59" y="561.44" width="6.10" height="46.06" fill="#000"/>
<text x="0.00" y="0.00" font-size="13" font-weight="bold" text-anchor="end" transform="translate(486.38,622.35) rotate(-48)" >Twist1</text>
<line x1="506.86" y1="607.5" x2="506.86" y2="610.5" stroke="#000" stroke-width="1.5"/>
<rect x="500.86" y="567.19" width="4.30" height="40.31" fill="#fff" stroke="#000" stroke-width="1.8"/>
<line x1="510.71" y1="574.37" x2="510.71" y2="569.93" stroke="#000" stroke-width="1.9"/>
<line x1="509.81" y1="570.88" x2="511.61" y2="570.88" stroke="#000" stroke-width="1.9" stroke-linecap="round"/>
<rect x="507.66" y="574.37" width="6.10" height="33.13" fill="#000"/>
<text x="0.00" y="0.00" font-size="13" font-weight="bold" text-anchor="end" transform="translate(506.02,622.35) rotate(-48)" >Wisp1</text>
<text x="0.90" y="674.30" font-size="17.5" font-weight="bold" >G</text>
<text x="66.73" y="673.30" font-size="12.3" font-weight="bold" textLength="170.40" lengthAdjust="spacingAndGlyphs" >SCs cells from TCRβ-/- mice</text>
<text x="96.97" y="688.00" font-size="12.3" font-weight="bold" textLength="111.35" lengthAdjust="spacingAndGlyphs" >+ Wnt10b-/- T cells</text>
<rect x="96.15" y="722.75" width="12.30" height="9.90" fill="#fff" stroke="#000" stroke-width="1.5"/>
<rect x="163.10" y="722.00" width="14.20" height="11.40" fill="#000"/>
<text x="114.61" y="731.80" font-size="13.3" textLength="33.74" lengthAdjust="spacingAndGlyphs" >Sham</text>
<text x="181.87" y="731.80" font-size="13.3" textLength="28.21" lengthAdjust="spacingAndGlyphs" >OVX</text>
<text x="0.00" y="0.00" font-size="13.5" font-weight="bold" textLength="158.46" lengthAdjust="spacingAndGlyphs" transform="translate(27.60,824.96) rotate(-90)" >Relative Gene Expression</text>
<text x="0.00" y="0.00" font-size="12.5" font-weight="bold" textLength="79.97" lengthAdjust="spacingAndGlyphs" transform="translate(43.00,786.03) rotate(-90)" >(fold change)</text>
<line x1="62.1" y1="807.55" x2="62.1" y2="684.8499999999999" stroke="#000" stroke-width="1.5"/>
<line x1="59.1" y1="806.80" x2="62.1" y2="806.80" stroke="#000" stroke-width="1.5"/>
<text x="56.50" y="811.52" font-size="11.4" font-weight="bold" text-anchor="end" >0</text>
<line x1="59.1" y1="766.40" x2="62.1" y2="766.40" stroke="#000" stroke-width="1.5"/>
<text x="56.50" y="771.12" font-size="11.4" font-weight="bold" text-anchor="end" >1</text>
<line x1="59.1" y1="726.00" x2="62.1" y2="726.00" stroke="#000" stroke-width="1.5"/>
<text x="56.50" y="730.72" font-size="11.4" font-weight="bold" text-anchor="end" >2</text>
<line x1="59.1" y1="685.60" x2="62.1" y2="685.60" stroke="#000" stroke-width="1.5"/>
<text x="56.50" y="690.32" font-size="11.4" font-weight="bold" text-anchor="end" >3</text>
<line x1="61.35" y1="806.8" x2="238.9" y2="806.8" stroke="#000" stroke-width="1.5"/>
<line x1="71.50" y1="806.8" x2="71.50" y2="809.8" stroke="#000" stroke-width="1.5"/>
<line x1="67.75" y1="766.00" x2="67.75" y2="763.17" stroke="#000" stroke-width="1.9"/>
<line x1="66.85" y1="764.12" x2="68.65" y2="764.12" stroke="#000" stroke-width="1.9" stroke-linecap="round"/>
<rect x="65.70" y="766.90" width="4.10" height="39.90" fill="#fff" stroke="#000" stroke-width="1.8"/>
<line x1="75.20" y1="759.94" x2="75.20" y2="752.66" stroke="#000" stroke-width="1.9"/>
<line x1="74.30" y1="753.61" x2="76.10" y2="753.61" stroke="#000" stroke-width="1.9" stroke-linecap="round"/>
<rect x="72.10" y="759.94" width="6.20" height="46.86" fill="#000"/>
<text x="0.00" y="0.00" font-size="13" font-weight="bold" text-anchor="end" transform="translate(72.70,821.05) rotate(-48)" >Ahr</text>
<line x1="91.18" y1="806.8" x2="91.18" y2="809.8" stroke="#000" stroke-width="1.5"/>
<line x1="87.43" y1="765.59" x2="87.43" y2="760.74" stroke="#000" stroke-width="1.9"/>
<line x1="86.53" y1="761.69" x2="88.33" y2="761.69" stroke="#000" stroke-width="1.9" stroke-linecap="round"/>
<rect x="85.38" y="766.49" width="4.10" height="40.31" fill="#fff" stroke="#000" stroke-width="1.8"/>
<line x1="94.88" y1="754.68" x2="94.88" y2="746.20" stroke="#000" stroke-width="1.9"/>
<line x1="93.98" y1="747.15" x2="95.78" y2="747.15" stroke="#000" stroke-width="1.9" stroke-linecap="round"/>
<rect x="91.78" y="754.68" width="6.20" height="52.12" fill="#000"/>
<text x="0.00" y="0.00" font-size="13" font-weight="bold" text-anchor="end" transform="translate(92.19,821.05) rotate(-48)" >Axin-2</text>
<line x1="110.86" y1="806.8" x2="110.86" y2="809.8" stroke="#000" stroke-width="1.5"/>
<line x1="107.11" y1="766.40" x2="107.11" y2="765.19" stroke="#000" stroke-width="1.9"/>
<line x1="106.21" y1="766.14" x2="108.01" y2="766.14" stroke="#000" stroke-width="1.9" stroke-linecap="round"/>
<rect x="105.06" y="767.30" width="4.10" height="39.50" fill="#fff" stroke="#000" stroke-width="1.8"/>
<line x1="114.56" y1="765.59" x2="114.56" y2="758.72" stroke="#000" stroke-width="1.9"/>
<line x1="113.66" y1="759.67" x2="115.46" y2="759.67" stroke="#000" stroke-width="1.9" stroke-linecap="round"/>
<rect x="111.46" y="765.59" width="6.20" height="41.21" fill="#000"/>
<text x="0.00" y="0.00" font-size="13" font-weight="bold" text-anchor="end" transform="translate(111.68,821.05) rotate(-48)" >Cyr61</text>
<line x1="130.54" y1="806.8" x2="130.54" y2="809.8" stroke="#000" stroke-width="1.5"/>
<line x1="126.79" y1="766.00" x2="126.79" y2="763.17" stroke="#000" stroke-width="1.9"/>
<line x1="125.89" y1="764.12" x2="127.69" y2="764.12" stroke="#000" stroke-width="1.9" stroke-linecap="round"/>
<rect x="124.74" y="766.90" width="4.10" height="39.90" fill="#fff" stroke="#000" stroke-width="1.8"/>
<line x1="134.24" y1="764.38" x2="134.24" y2="758.32" stroke="#000" stroke-width="1.9"/>
<line x1="133.34" y1="759.27" x2="135.14" y2="759.27" stroke="#000" stroke-width="1.9" stroke-linecap="round"/>
<rect x="131.14" y="764.38" width="6.20" height="42.42" fill="#000"/>
<text x="0.00" y="0.00" font-size="13" font-weight="bold" text-anchor="end" transform="translate(131.17,821.05) rotate(-48)" >Nkd2</text>
<line x1="150.22" y1="806.8" x2="150.22" y2="809.8" stroke="#000" stroke-width="1.5"/>
<line x1="146.47" y1="765.59" x2="146.47" y2="757.11" stroke="#000" stroke-width="1.9"/>
<line x1="145.57" y1="758.06" x2="147.37" y2="758.06" stroke="#000" stroke-width="1.9" stroke-linecap="round"/>
<rect x="144.42" y="766.49" width="4.10" height="40.31" fill="#fff" stroke="#000" stroke-width="1.8"/>
<line x1="153.92" y1="773.27" x2="153.92" y2="772.46" stroke="#000" stroke-width="1.9"/>
<line x1="153.02" y1="773.41" x2="154.82" y2="773.41" stroke="#000" stroke-width="1.9" stroke-linecap="round"/>
<rect x="150.82" y="773.27" width="6.20" height="33.53" fill="#000"/>
<text x="0.00" y="0.00" font-size="13" font-weight="bold" text-anchor="end" transform="translate(150.66,821.05) rotate(-48)" >Tagln</text>
<line x1="169.90" y1="806.8" x2="169.90" y2="809.8" stroke="#000" stroke-width="1.5"/>
<line x1="166.15" y1="765.59" x2="166.15" y2="757.11" stroke="#000" stroke-width="1.9"/>
<line x1="165.25" y1="758.06" x2="167.05" y2="758.06" stroke="#000" stroke-width="1.9" stroke-linecap="round"/>
<rect x="164.10" y="766.49" width="4.10" height="40.31" fill="#fff" stroke="#000" stroke-width="1.8"/>
<line x1="173.60" y1="766.40" x2="173.60" y2="763.98" stroke="#000" stroke-width="1.9"/>
<line x1="172.70" y1="764.93" x2="174.50" y2="764.93" stroke="#000" stroke-width="1.9" stroke-linecap="round"/>
<rect x="170.50" y="766.40" width="6.20" height="40.40" fill="#000"/>
<text x="0.00" y="0.00" font-size="13" font-weight="bold" text-anchor="end" transform="translate(170.15,821.05) rotate(-48)" >TGFβ3</text>
<line x1="189.58" y1="806.8" x2="189.58" y2="809.8" stroke="#000" stroke-width="1.5"/>
<line x1="185.83" y1="766.40" x2="185.83" y2="763.17" stroke="#000" stroke-width="1.9"/>
<line x1="184.93" y1="764.12" x2="186.73" y2="764.12" stroke="#000" stroke-width="1.9" stroke-linecap="round"/>
<rect x="183.78" y="767.30" width="4.10" height="39.50" fill="#fff" stroke="#000" stroke-width="1.8"/>
<line x1="193.28" y1="750.24" x2="193.28" y2="749.43" stroke="#000" stroke-width="1.9"/>
<line x1="192.38" y1="750.38" x2="194.18" y2="750.38" stroke="#000" stroke-width="1.9" stroke-linecap="round"/>
<rect x="190.18" y="750.24" width="6.20" height="56.56" fill="#000"/>
<text x="0.00" y="0.00" font-size="13" font-weight="bold" text-anchor="end" transform="translate(189.64,821.05) rotate(-48)" >Thbs1</text>
<line x1="209.26" y1="806.8" x2="209.26" y2="809.8" stroke="#000" stroke-width="1.5"/>
<line x1="205.51" y1="766.40" x2="205.51" y2="761.96" stroke="#000" stroke-width="1.9"/>
<line x1="204.61" y1="762.91" x2="206.41" y2="762.91" stroke="#000" stroke-width="1.9" stroke-linecap="round"/>
<rect x="203.46" y="767.30" width="4.10" height="39.50" fill="#fff" stroke="#000" stroke-width="1.8"/>
<line x1="212.96" y1="764.78" x2="212.96" y2="755.49" stroke="#000" stroke-width="1.9"/>
<line x1="212.06" y1="756.44" x2="213.86" y2="756.44" stroke="#000" stroke-width="1.9" stroke-linecap="round"/>
<rect x="209.86" y="764.78" width="6.20" height="42.02" fill="#000"/>
<text x="0.00" y="0.00" font-size="13" font-weight="bold" text-anchor="end" transform="translate(209.13,821.05) rotate(-48)" >Twist1</text>
<line x1="228.94" y1="806.8" x2="228.94" y2="809.8" stroke="#000" stroke-width="1.5"/>
<rect x="223.14" y="767.30" width="4.10" height="39.50" fill="#fff" stroke="#000" stroke-width="1.8"/>
<line x1="232.64" y1="748.62" x2="232.64" y2="739.74" stroke="#000" stroke-width="1.9"/>
<line x1="231.74" y1="740.69" x2="233.54" y2="740.69" stroke="#000" stroke-width="1.9" stroke-linecap="round"/>
<rect x="229.54" y="748.62" width="6.20" height="58.18" fill="#000"/>
<text x="0.00" y="0.00" font-size="13" font-weight="bold" text-anchor="end" transform="translate(228.62,821.05) rotate(-48)" >Wisp1</text>
</svg>
</body></html>
